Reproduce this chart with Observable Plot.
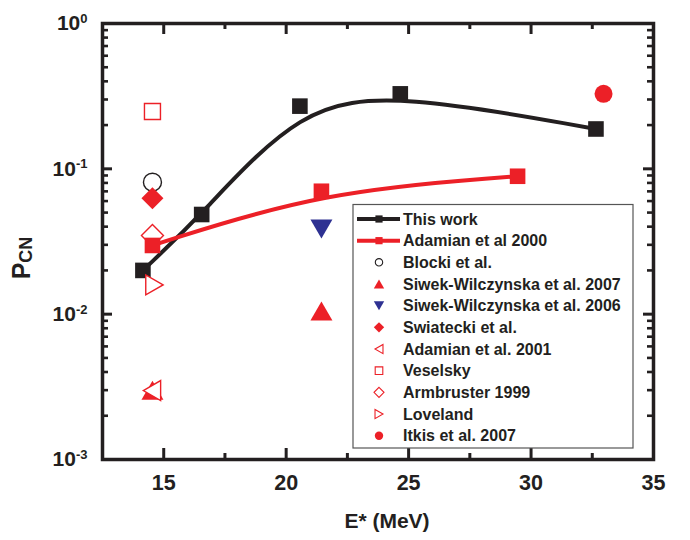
<!DOCTYPE html>
<html><head><meta charset="utf-8">
<script src="https://cdn.jsdelivr.net/npm/d3@7"></script>
<script src="https://cdn.jsdelivr.net/npm/@observablehq/plot@0.6"></script>
<style>
body{margin:0;background:#fff;}
#chart{width:690px;height:540px;}
</style></head><body><div id="chart"></div>
<script>
// ---- data ----
const thisWorkE = [14.15, 16.55, 20.56, 24.66, 32.65];
const thisWorkP = [0.0200, 0.0485, 0.270, 0.328, 0.188];
const adamian2000E = [14.54, 21.44, 29.45];
const adamian2000P = [0.0297, 0.0701, 0.0889];
const blockiE = [14.54];        const blockiP = [0.0809];
const siwek2007E = [14.54, 21.44]; const siwek2007P = [0.0030, 0.0105];
const siwek2006E = [21.44];     const siwek2006P = [0.0386];
const swiateckiE = [14.54];     const swiateckiP = [0.0628];
const adamian2001E = [14.52];   const adamian2001P = [0.00298];
const veselskyE = [14.54];      const veselskyP = [0.248];
const armbrusterE = [14.54];    const armbrusterP = [0.0348];
const lovelandE = [14.62];      const lovelandP = [0.0159];
const itkisE = [32.96];         const itkisP = [0.328];

const xTicksMajor = [15, 20, 25, 30, 35];
const xTicksMinor = [12.5, 17.5, 22.5, 27.5, 32.5];
const yTicksMajor = [1e-3, 1e-2, 1e-1, 1];
const yTickLabels = ["10^-3", "10^-2", "10^-1", "10^0"];
const yMinorMult = [2, 3, 4, 5, 6, 7, 8, 9];
const legendLabels = ["This work", "Adamian et al 2000", "Blocki et al.", "Siwek-Wilczynska et al. 2007",
  "Siwek-Wilczynska et al. 2006", "Swiatecki et al.", "Adamian et al. 2001", "Veselsky",
  "Armbruster 1999", "Loveland", "Itkis et al. 2007"];
const xTitle = "E* (MeV)";
const yTitleMain = "P", yTitleSub = "CN";

// ---- helpers ----
const rows = (E, P) => E.map((e, i) => ({e, p: P[i]}));
const yTicksMinor = yTicksMajor.slice(0, -1).flatMap(d => yMinorMult.map(m => d * m));

const W = 690, H = 540, ML = 102, MR = 37, MT = 23, MB = 81;
const PW = W - ML - MR, PH = H - MT - MB;
const FONT = "'Liberation Sans', Arial, Helvetica, sans-serif";
const BLACK = "#231f20", RED = "#ec2027", BLUE = "#2e3192";
const mk = f => ({draw(c, size) { const r = Math.sqrt(size / Math.PI); f(c, r); }});
const symSquare = mk((c, r) => { c.moveTo(-r, -r); c.lineTo(r, -r); c.lineTo(r, r); c.lineTo(-r, r); c.closePath(); });
const symDiamond = mk((c, r) => { c.moveTo(0, -r); c.lineTo(r, 0); c.lineTo(0, r); c.lineTo(-r, 0); c.closePath(); });
const h = 0.866;
const symUp = mk((c, r) => { c.moveTo(0, -h * r); c.lineTo(r, h * r); c.lineTo(-r, h * r); c.closePath(); });
const symDown = mk((c, r) => { c.moveTo(0, h * r); c.lineTo(r, -h * r); c.lineTo(-r, -h * r); c.closePath(); });
const symLeft = mk((c, r) => { c.moveTo(-h * r, 0); c.lineTo(h * r, -r); c.lineTo(h * r, r); c.closePath(); });
const symRight = mk((c, r) => { c.moveTo(h * r, 0); c.lineTo(-h * r, -r); c.lineTo(-h * r, r); c.closePath(); });
const symCircle = mk((c, r) => { c.moveTo(r, 0); c.arc(0, 0, r, 0, 2 * Math.PI); c.closePath(); });

const dotOpts = (sym, r, filled, color) => filled
  ? {x: "e", y: "p", symbol: sym, r, fill: color, stroke: "none"}
  : {x: "e", y: "p", symbol: sym, r, fill: "white", stroke: color, strokeWidth: 1.4};

const plot = Plot.plot({
  width: W, height: H,
  marginTop: MT, marginRight: MR, marginBottom: MB, marginLeft: ML,
  style: {fontFamily: FONT, background: "white", color: BLACK},
  x: {domain: [12.5, 35]},
  y: {type: "log", domain: [1e-3, 1]},
  marks: [
    // inward ticks on all four sides
    Plot.ruleX(xTicksMajor, {x: d => d, insetTop: PH - 11, stroke: BLACK, strokeWidth: 3}),
    Plot.ruleX(xTicksMinor, {x: d => d, insetTop: PH - 6, stroke: BLACK, strokeWidth: 3}),
    Plot.ruleX(xTicksMajor, {x: d => d, insetBottom: PH - 11, stroke: BLACK, strokeWidth: 3}),
    Plot.ruleX(xTicksMinor, {x: d => d, insetBottom: PH - 6, stroke: BLACK, strokeWidth: 3}),
    Plot.ruleY(yTicksMajor, {y: d => d, insetRight: PW - 10, stroke: BLACK, strokeWidth: 3}),
    Plot.ruleY(yTicksMinor, {y: d => d, insetRight: PW - 6, stroke: BLACK, strokeWidth: 2.6}),
    Plot.ruleY(yTicksMajor, {y: d => d, insetLeft: PW - 10, stroke: BLACK, strokeWidth: 3}),
    Plot.ruleY(yTicksMinor, {y: d => d, insetLeft: PW - 6, stroke: BLACK, strokeWidth: 2.6}),
    Plot.axisX({anchor: "bottom", ticks: xTicksMajor, tickSize: 0, tickPadding: 15, fontSize: 21.5,
      fontWeight: "bold", label: null, fill: BLACK}),
    Plot.axisY({anchor: "left", ticks: yTicksMajor, tickSize: 0, tickPadding: 15, fontSize: 21,
      fontWeight: "bold", label: null, fill: BLACK,
      tickFormat: d => yTickLabels[yTicksMajor.indexOf(d)]}),
    Plot.frame({stroke: BLACK, strokeWidth: 3.5}),
    Plot.text([xTitle], {frameAnchor: "bottom", dx: 9, dy: 68, text: d => d, fontSize: 21, fontWeight: "bold", fill: BLACK}),
    // series
    Plot.line(rows(thisWorkE, thisWorkP), {x: "e", y: "p", curve: "basis", stroke: BLACK, strokeWidth: 4}),
    Plot.dot(rows(thisWorkE, thisWorkP), dotOpts(symSquare, 7.8, true, BLACK)),
    Plot.line(rows(adamian2000E, adamian2000P), {x: "e", y: "p", curve: "basis", stroke: RED, strokeWidth: 4}),
    Plot.dot(rows(armbrusterE, armbrusterP), dotOpts(symDiamond, 11, false, RED)),
    Plot.dot(rows(adamian2000E, adamian2000P), dotOpts(symSquare, 7.8, true, RED)),
    Plot.dot(rows(blockiE, blockiP), dotOpts(symCircle, 9, false, BLACK)),
    Plot.dot(rows(swiateckiE, swiateckiP), dotOpts(symDiamond, 11, true, RED)),
    Plot.dot(rows(siwek2007E, siwek2007P), dotOpts(symUp, 11, true, RED)),
    Plot.dot(rows(siwek2006E, siwek2006P), dotOpts(symDown, 11, true, BLUE)),
    Plot.dot(rows(adamian2001E, adamian2001P), dotOpts(symLeft, 10, false, RED)),
    Plot.dot(rows(veselskyE, veselskyP), dotOpts(symSquare, 8, false, RED)),
    Plot.dot(rows(lovelandE, lovelandP), dotOpts(symRight, 10, false, RED)),
    Plot.dot(rows(itkisE, itkisP), dotOpts(symCircle, 9, true, RED))
  ]
});

const svg = d3.select(plot);
// superscripts on y tick labels
svg.selectAll("text").each(function() {
  const t = d3.select(this); const s = t.text();
  if (!s.includes("^")) return;
  const [base, exp] = s.split("^");
  t.text(null);
  t.append("tspan").text(base);
  t.append("tspan").attr("dy", "-0.55em").attr("font-size", 13).text(exp);
});
// y title with subscript
const yt = svg.append("text").attr("transform", `translate(30,258) rotate(-90)`)
  .attr("text-anchor", "middle").attr("font-family", FONT).attr("font-weight", "bold").attr("fill", BLACK);
yt.append("tspan").attr("font-size", 25).text(yTitleMain);
yt.append("tspan").attr("font-size", 18).attr("dy", 2).text(yTitleSub);

// legend
const leg = svg.append("g").attr("font-family", FONT).attr("text-anchor", "start");
leg.append("rect").attr("x", 353).attr("y", 204.5).attr("width", 280).attr("height", 243.5)
  .attr("fill", "white").attr("stroke", "#555").attr("stroke-width", 1.2);
const legSyms = [
  {line: BLACK, sym: symSquare, r: 3.6, fill: BLACK, stroke: "none"},
  {line: RED, sym: symSquare, r: 3.6, fill: RED, stroke: "none"},
  {sym: symCircle, r: 3.7, fill: "white", stroke: BLACK},
  {sym: symUp, r: 5.2, fill: RED, stroke: "none"},
  {sym: symDown, r: 5.2, fill: BLUE, stroke: "none"},
  {sym: symDiamond, r: 5.2, fill: RED, stroke: "none"},
  {sym: symLeft, r: 4.6, fill: "white", stroke: RED},
  {sym: symSquare, r: 3.8, fill: "white", stroke: RED},
  {sym: symDiamond, r: 5, fill: "white", stroke: RED},
  {sym: symRight, r: 4.6, fill: "white", stroke: RED},
  {sym: symCircle, r: 4.2, fill: RED, stroke: "none"}
];
legendLabels.forEach((lab, i) => {
  const y = 219 + i * 21.67, s = legSyms[i];
  if (s.line) leg.append("line").attr("x1", 357).attr("x2", 400).attr("y1", y).attr("y2", y)
    .attr("stroke", s.line).attr("stroke-width", 4);
  leg.append("path").attr("transform", `translate(379,${y})`)
    .attr("d", d3.symbol(s.sym, Math.PI * s.r * s.r)())
    .attr("fill", s.fill).attr("stroke", s.stroke).attr("stroke-width", 1.1);
  leg.append("text").attr("x", 403).attr("y", y).attr("dy", "0.36em").attr("font-size", 16)
    .attr("font-weight", "bold").attr("fill", BLACK).text(lab);
});

document.getElementById("chart").append(plot);
</script></body></html>
